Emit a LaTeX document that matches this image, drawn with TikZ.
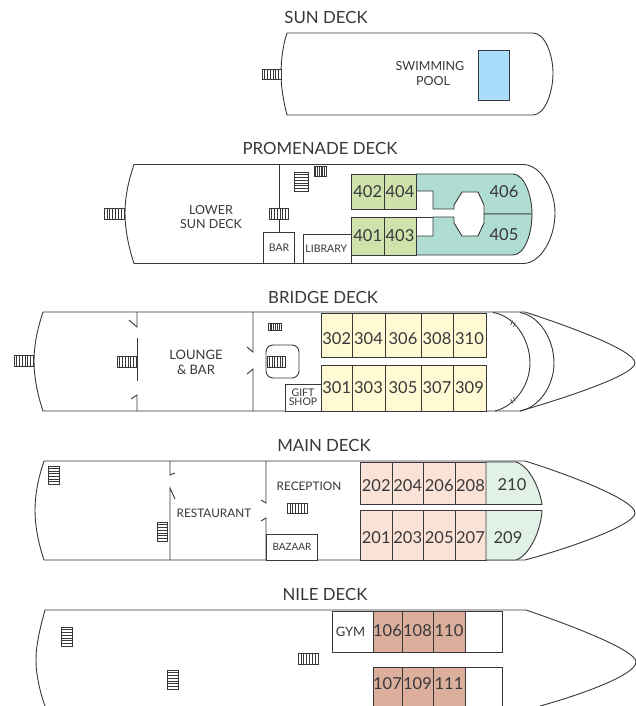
\documentclass[tikz,border=0pt]{standalone}
\usepackage{fontspec}
\setmainfont{Lato}

\definecolor{inkcol}{HTML}{38383A}
\definecolor{poolcol}{HTML}{A9DDF9}
\definecolor{promcol}{HTML}{CFE2AC}
\definecolor{tealcol}{HTML}{B0DDD1}
\definecolor{bridgecol}{HTML}{FFFAD4}
\definecolor{maincol}{HTML}{FBE2D6}
\definecolor{mintcol}{HTML}{E2F1E6}
\definecolor{nilecol}{HTML}{DCAE9C}

\def\fsize#1{\fontsize{#1}{#1}\selectfont}

% stairs with the treads running up and down
\def\hstairs(#1,#2)(#3,#4){
  \path[stairbox] (#1,#2) rectangle (#3,#4);
  \foreach \t in {1,...,6} {
    \path[draw,stairline] ({#1+(#3-#1)*\t/7},#2) -- ({#1+(#3-#1)*\t/7},#4);
  }
}
% stairs with the treads running across
\def\vstairs(#1,#2)(#3,#4){
  \path[stairbox] (#1,#2) rectangle (#3,#4);
  \foreach \t in {1,...,6} {
    \path[draw,stairline] (#1,{#2+(#4-#2)*\t/7}) -- (#3,{#2+(#4-#2)*\t/7});
  }
}

\begin{document}
\begin{tikzpicture}[x=1pt,y=-1pt,
    hull/.style={draw=inkcol,line width=0.9pt},
    wall/.style={draw=inkcol,line width=0.9pt},
    room/.style={draw=inkcol,line width=0.9pt,fill=white},
    cabin/.style={draw=inkcol,line width=0.9pt,text=inkcol,font=\fsize{16.5}},
    stairbox/.style={draw=inkcol,line width=0.7pt,fill=white},
    stairline/.style={draw=inkcol,line width=0.6pt},
    title/.style={text=inkcol,font=\fsize{16.8}},
    lbl/.style={text=inkcol,font=\fsize{12.5},align=center},
    small/.style={text=inkcol,font=\fsize{10.5},align=center,inner sep=0pt}]
  \useasboundingbox (0,0) rectangle (636,706);
  \fill[white] (0,0) rectangle (636,706);

  % sun deck
  \node[title] (sun) at (326,17) {SUN DECK};
  \path[hull] (287,33) -- (533,33) .. controls (545,33) and (553,55) .. (553,73)
    .. controls (553,92) and (545,115) .. (533,115) -- (287,115)
    .. controls (283,100) and (281,85) .. (281,74) .. controls (281,60) and (283,45) .. (287,33) -- cycle;
  \hstairs(262,69)(281,79)
  \path[draw=inkcol,line width=0.9pt,fill=poolcol] (478.5,50.5) rectangle node (pool) {} (509,100);
  \node[lbl] (swim) at (430,73.5) {SWIMMING\\[2.5pt]\hspace*{6pt}POOL};

  % promenade deck
  \node[title] (prom) at (320,148) {PROMENADE DECK};
  \path[hull] (134,164.5) -- (523,164.5) .. controls (541,164.5) and (555,190) .. (555,213)
    .. controls (555,238) and (541,263.5) .. (523,263.5) -- (134,263.5)
    .. controls (128,245) and (125,228) .. (125,213) .. controls (125,198) and (128,182) .. (134,164.5) -- cycle;
  \hstairs(104,208)(124,219)
  \path[wall] (279,164.5) -- (279,232);
  \hstairs(269,208)(288,219)
  \vstairs(294,172)(308,191)
  \hstairs(314,166)(326,176)
  \node[lbl] (sundeck) at (211,217) {LOWER\\[2pt]SUN DECK};
  \path[room] (263.5,232.5) rectangle node[small] (bar) {BAR} (294.5,263.5);
  \path[room] (303,234.5) rectangle node[small,xshift=-1pt] (library) {LIBRARY} (351.5,263.5);
  \path[room] (351.5,255) -- (351.5,263.5);
  \path[draw=inkcol,line width=0.9pt,fill=tealcol] (416,174) -- (513,174)
    .. controls (524,174) and (532,195) .. (532,214) -- (484,214) -- (484,205) -- (478,192) -- (462,192)
    -- (454,205) -- (454,209) -- (433,209) -- (433,191) -- (416,191) -- cycle;
  \path[draw=inkcol,line width=0.9pt,fill=tealcol] (532,214) .. controls (532,235) and (524,255) .. (513,255)
    -- (416,255) -- (416,236) -- (433,236) -- (433,217) -- (454,217) -- (454,223) -- (462,236) -- (478,236)
    -- (484,223) -- (484,214) -- cycle;
  \path[wall] (416,217) -- (433,217);
  \node[cabin,draw=none] (c406) at (504,192) {406};
  \node[cabin,draw=none] (c405) at (504,235) {405};
  \path[cabin,fill=promcol] (351.5,174) rectangle node (c402) {402} (384,209);
  \path[cabin,fill=promcol] (384,174) rectangle node (c404) {404} (416,209);
  \path[cabin,fill=promcol] (351.5,217) rectangle node (c401) {401} (384,255);
  \path[cabin,fill=promcol] (384,217) rectangle node (c403) {403} (416,255);

  % bridge deck
  \node[title] (bridge) at (323,297) {BRIDGE DECK};
  \path[hull] (43,312) -- (525,312) .. controls (565,325) and (635,350) .. (635,363)
    .. controls (635,375) and (565,398) .. (520,411) -- (43,411)
    .. controls (37,393) and (34,376) .. (34,361) .. controls (34,346) and (37,330) .. (43,312) -- cycle;
  \hstairs(14,355)(33,366)
  \path[wall] (137,312) -- (137,327) -- (129,320);
  \path[wall] (137,338) -- (137,381);
  \path[wall] (131,399) -- (137,395) -- (137,411);
  \hstairs(117,356)(136,367)
  \path[wall] (253,312) -- (253,352) -- (247,347);
  \path[wall] (247,374) -- (253,369) -- (253,411);
  \node[lbl,font=\fsize{13}] (lounge) at (196,362) {LOUNGE\\[2pt]\& BAR};
  \hstairs(268,323)(281,330)
  \path[room,rounded corners=7pt] (266,345) rectangle (299,378);
  \hstairs(267,356)(285,367)
  \path[room] (285,384) rectangle node[small] (gift) {GIFT\\[-1.5pt]SHOP} (321,411);
  \path[cabin,fill=bridgecol] (321.5,313) rectangle node[yshift=-3.5pt] (c302) {302} (352,357);
  \path[cabin,fill=bridgecol] (352,313) rectangle node[yshift=-3.5pt] (c304) {304} (385,357);
  \path[cabin,fill=bridgecol] (385,313) rectangle node[yshift=-3.5pt] (c306) {306} (421,357);
  \path[cabin,fill=bridgecol] (421,313) rectangle node[yshift=-3.5pt] (c308) {308} (453,357);
  \path[cabin,fill=bridgecol] (453,313) rectangle node[yshift=-3.5pt] (c310) {310} (486,357);
  \path[cabin,fill=bridgecol] (321.5,365) rectangle node (c301) {301} (352,411);
  \path[cabin,fill=bridgecol] (352,365) rectangle node (c303) {303} (385,411);
  \path[cabin,fill=bridgecol] (385,365) rectangle node (c305) {305} (421,411);
  \path[cabin,fill=bridgecol] (421,365) rectangle node (c307) {307} (453,411);
  \path[cabin,fill=bridgecol] (453,365) rectangle node (c309) {309} (486,411);
  \path[wall] (493,312.5) .. controls (515,316) and (530,340) .. (530,363)
    .. controls (530,385) and (515,406) .. (495,411);
  \path[wall] (520,312.5) .. controls (540,316) and (554,340) .. (554,363)
    .. controls (554,385) and (540,407) .. (520,411);
  \path[draw=inkcol,line width=0.6pt] (512.7,320.5) -- (510.7,325) (515.3,322.5) -- (513.3,327);
  \path[draw=inkcol,line width=0.6pt] (510.7,399) -- (512.7,403.5) (513.3,397) -- (515.3,401.5);

  % main deck
  \node[title] (mainck) at (324,445) {MAIN DECK};
  \path[hull] (44,461) -- (525,461) .. controls (570,475) and (635,500) .. (635,513)
    .. controls (635,525) and (570,548) .. (525,560) -- (44,560)
    .. controls (38,542) and (35,525) .. (35,510) .. controls (35,495) and (38,479) .. (44,461) -- cycle;
  \vstairs(48,466)(59,484)
  \vstairs(157,522)(167,541)
  \path[wall] (170,461) -- (170,475) -- (175,473);
  \path[wall] (175,499) -- (170,488) -- (170,560);
  \path[wall] (266,461) -- (266,503) -- (261,500);
  \path[wall] (261,521) -- (266,518) -- (266,560);
  \node[lbl,font=\fsize{11.8}] (rest) at (214,513) {RESTAURANT};
  \node[lbl,font=\fsize{11.8}] (recep) at (309,486) {RECEPTION};
  \hstairs(287,503)(307,513)
  \path[room] (266.5,534) rectangle node[small,font=\fsize{10}] (bazaar) {BAZAAR} (317.5,560);
  \path[cabin,fill=maincol] (360.5,462) rectangle node[yshift=-2.5pt] (c202) {202} (392,504.5);
  \path[cabin,fill=maincol] (392,462) rectangle node[yshift=-2.5pt] (c204) {204} (423.5,504.5);
  \path[cabin,fill=maincol] (423.5,462) rectangle node[yshift=-2.5pt] (c206) {206} (455,504.5);
  \path[cabin,fill=maincol] (455,462) rectangle node[yshift=-2.5pt] (c208) {208} (486,504.5);
  \path[cabin,fill=maincol] (360.5,510.5) rectangle node[yshift=-2pt] (c201) {201} (392,560);
  \path[cabin,fill=maincol] (392,510.5) rectangle node[yshift=-2pt] (c203) {203} (423.5,560);
  \path[cabin,fill=maincol] (423.5,510.5) rectangle node[yshift=-2pt] (c205) {205} (455,560);
  \path[cabin,fill=maincol] (455,510.5) rectangle node[yshift=-2pt] (c207) {207} (486,560);
  \path[draw=inkcol,line width=0.9pt,fill=mintcol] (486,462) -- (516,462) .. controls (530,466) and (540,490) .. (542,504.5) -- (486,504.5) -- cycle;
  \path[draw=inkcol,line width=0.9pt,fill=mintcol] (486,510.5) -- (542,510.5) .. controls (541,530) and (530,555) .. (516,560) -- (486,560) -- cycle;
  \node[cabin,draw=none] (c210) at (512,485) {210};
  \node[cabin,draw=none] (c209) at (508,538) {209};

  % nile deck
  \node[title] (nile) at (325,594) {NILE DECK};
  \begin{scope}
    \clip (0,0) rectangle (636,706);
    \path[hull] (45,610) -- (526,610) .. controls (570,625) and (636,650) .. (636,662)
      .. controls (636,675) and (580,695) .. (540,706);
    \path[hull] (36,660) .. controls (36,675) and (40,692) .. (45,706);
    \path[hull] (36,660) .. controls (36,645) and (40,628) .. (45,610);
    \path[room] (332,611) rectangle node[lbl,font=\fsize{13},xshift=-2pt] (gym) {GYM} (373,652);
    \path[cabin,fill=nilecol] (373,611) rectangle node[yshift=1pt] (c106) {106} (402,652);
    \path[cabin,fill=nilecol] (402,611) rectangle node[yshift=1pt] (c108) {108} (433,652);
    \path[cabin,fill=nilecol] (433,611) rectangle node[yshift=1pt] (c110) {110} (465,652);
    \path[room] (465,611) rectangle (502,652);
    \path[room] (465,667) rectangle (502,712);
    \path[cabin,fill=nilecol] (373,667) rectangle (402,712);
    \path[cabin,fill=nilecol] (402,667) rectangle (433,712);
    \path[cabin,fill=nilecol] (433,667) rectangle (465,712);
    \node[cabin,draw=none] (c107) at (387.5,684) {107};
    \node[cabin,draw=none] (c109) at (417.5,684) {109};
    \node[cabin,draw=none] (c111) at (449,684) {111};
  \end{scope}
  \vstairs(61,627)(72,646)
  \vstairs(167,670)(178,689)
  \hstairs(298,653)(318,664)
\end{tikzpicture}
\end{document}
